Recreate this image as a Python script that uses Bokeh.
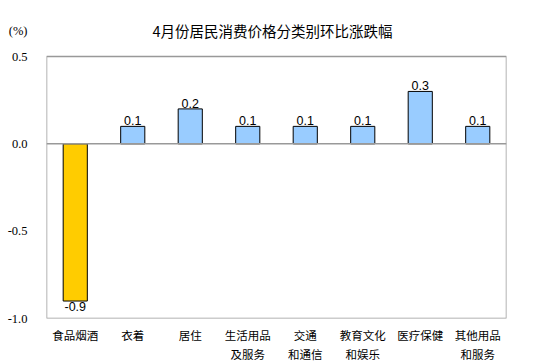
from bokeh.plotting import figure
from bokeh.models import ColumnDataSource, Label, Span, FactorRange, Range1d, FixedTicker, LabelSet
from bokeh.embed import file_html
from bokeh.resources import INLINE
from bokeh.core.properties import value

categories = ["食品烟酒", "衣着", "居住", "生活用品\n及服务", "交通\n和通信", "教育文化\n和娱乐", "医疗保健", "其他用品\n和服务"]
values = [-0.9, 0.1, 0.2, 0.1, 0.1, 0.1, 0.3, 0.1]
value_labels = ["-0.9", "0.1", "0.2", "0.1", "0.1", "0.1", "0.3", "0.1"]
y_ticks = [-1.0, -0.5, 0.0, 0.5]
y_tick_labels = {-1.0: "-1.0", -0.5: "-0.5", 0.0: "0.0", 0.5: "0.5"}
title_text = "4月份居民消费价格分类别环比涨跌幅"
unit_text = "(%)"

colors = ["#FFCC00" if v < 0 else "#99CCFF" for v in values]

# layout (pixels)
FW = 460          # plot-area width
PH = 262          # plot-area height for the y_ticks span
TOP_PAD = 46      # extra frame space above the plot area (for title row)
px = (y_ticks[-1] - y_ticks[0]) / PH
y_top = y_ticks[-1] + TOP_PAD * px
title_y = y_ticks[-1] + 26 * px

src = ColumnDataSource(dict(cat=categories, val=values, color=colors))

p = figure(frame_width=FW, frame_height=PH + TOP_PAD, x_range=FactorRange(*categories),
           y_range=Range1d(y_ticks[0], y_top), output_backend="svg", toolbar_location=None,
           min_border_left=46, min_border_top=10, min_border_right=28, min_border_bottom=44)
p.x_range.range_padding = 0
p.background_fill_color = "white"
p.border_fill_color = "white"
p.outline_line_color = None
p.xgrid.visible = False
p.ygrid.visible = False

# plot-area border spanning the category range and the y tick span
n = len(categories)
p.quad(left=[0], right=[n], bottom=[y_ticks[0]], top=[y_ticks[-1]],
       fill_color=None, line_color="#999999", line_width=1.5)

p.vbar(x="cat", top="val", bottom=0, width=0.42, source=src, fill_color="color",
       line_color="black", line_width=1)

zero = Span(location=0, dimension="width", line_color="#999999", line_width=1.5)
p.add_layout(zero)

pos = [i for i, v in enumerate(values) if v >= 0]
neg = [i for i, v in enumerate(values) if v < 0]
src_pos = ColumnDataSource(dict(cat=[categories[i] for i in pos], y=[values[i] for i in pos],
                                lab=[value_labels[i] for i in pos]))
src_neg = ColumnDataSource(dict(cat=[categories[i] for i in neg], y=[values[i] for i in neg],
                                lab=[value_labels[i] for i in neg]))
p.add_layout(LabelSet(x="cat", y="y", text="lab", source=src_pos, text_align="center",
                      text_baseline="bottom", y_offset=1, text_font=value("Liberation Sans"),
                      text_font_size="12.5px", text_color="black"))
p.add_layout(LabelSet(x="cat", y="y", text="lab", source=src_neg, text_align="center",
                      text_baseline="top", y_offset=-1, text_font=value("Liberation Sans"),
                      text_font_size="12.5px", text_color="black"))

overrides = dict(y_tick_labels)
overrides[title_y] = unit_text
p.yaxis.ticker = FixedTicker(ticks=y_ticks + [title_y])
p.yaxis.major_label_overrides = overrides
p.yaxis.axis_line_color = None
p.yaxis.major_tick_line_color = None
p.yaxis.minor_tick_line_color = None
p.yaxis.major_label_text_font = "Liberation Serif"
p.yaxis.major_label_text_font_size = "12.5px"
p.yaxis.major_label_text_color = "black"
p.yaxis.major_label_standoff = 13

p.xaxis.axis_line_color = None
p.xaxis.major_tick_line_color = None
p.xaxis.major_tick_in = 0
p.xaxis.major_tick_out = 0
p.xaxis.minor_tick_line_color = None
p.xaxis.major_label_text_font = "Noto Sans CJK SC"
p.xaxis.major_label_text_font_size = "11.5px"
p.xaxis.major_label_text_color = "black"
p.xaxis.major_label_standoff = 8

p.add_layout(Label(x=226 / FW * n, y=title_y, text=title_text,
                   text_align="center", text_baseline="middle",
                   text_font="Noto Sans CJK SC", text_font_size="14.5px", text_color="black"))

open("out.html", "w").write(file_html(p, INLINE))
